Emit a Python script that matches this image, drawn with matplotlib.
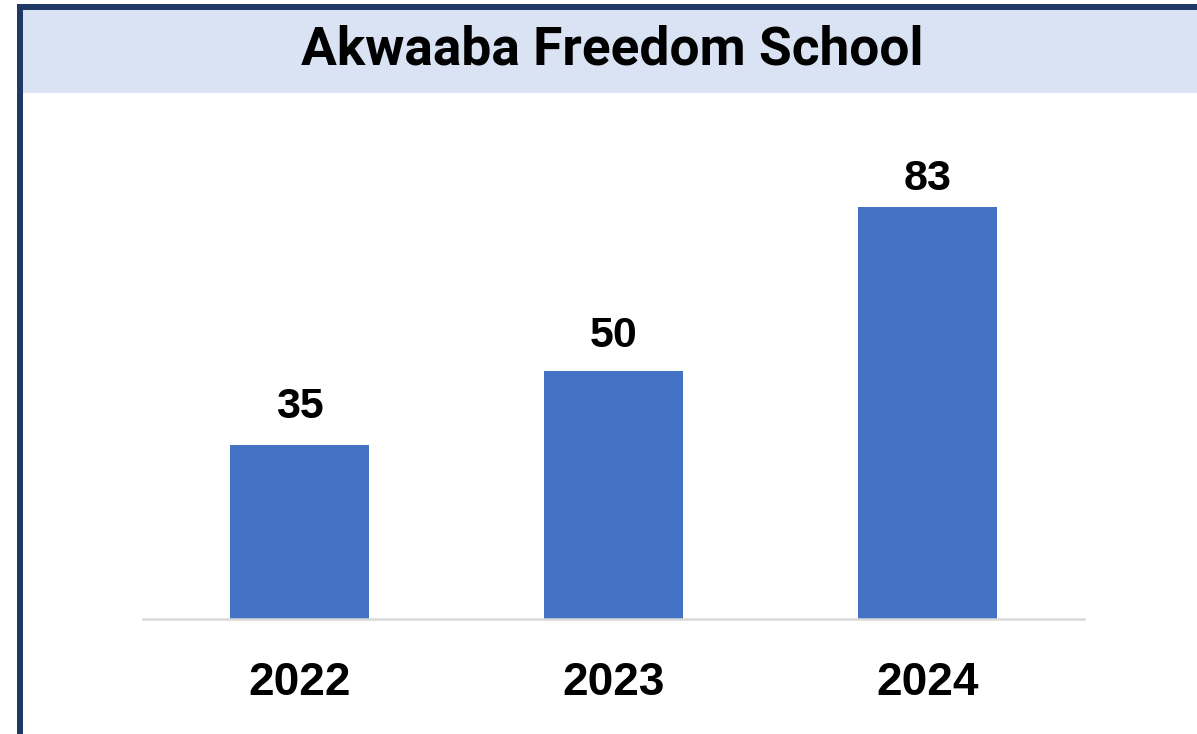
import matplotlib.pyplot as plt
from matplotlib.patches import Rectangle

years = ["2022", "2023", "2024"]
counts = [35, 50, 83]

W, H = 1197, 734
fig = plt.figure(figsize=(W / 100, H / 100), dpi=100)

# frame: title band + dark border on left and top
fig.patches.append(Rectangle((23 / W, 1 - 93 / H), 1, 83 / H, transform=fig.transFigure,
                             facecolor="#DAE3F3", edgecolor="none", zorder=0))
fig.patches.append(Rectangle((17 / W, 0), 6 / W, 1 - 4 / H, transform=fig.transFigure,
                             facecolor="#1F3864", edgecolor="none", zorder=1))
fig.patches.append(Rectangle((17 / W, 1 - 10 / H), 1, 6 / H, transform=fig.transFigure,
                             facecolor="#1F3864", edgecolor="none", zorder=1))

fig.text(612 / W, 1 - 50 / H, "Akwaaba Freedom School", ha="center", va="center",
         fontsize=38.3, fontweight="bold", family="Roboto", color="black")

ax = fig.add_axes([143 / W, 1 - 619 / H, (1084 - 143) / W, (619 - 123) / H])
bars = ax.bar(years, counts, width=0.443, color="#4472C4")
ax.set_xlim(-0.5, 2.5)
ax.set_ylim(0, 100)

# label gaps differ a little per bar in the original
pads = [13, 11, 6]
for i, (c, p) in enumerate(zip(counts, pads)):
    ax.annotate(str(c), (i, c), xytext=(0, p), textcoords="offset points",
                ha="center", va="bottom", fontsize=31, fontweight="bold",
                family="Liberation Sans")

for s in ["top", "right", "left"]:
    ax.spines[s].set_visible(False)
ax.spines["bottom"].set_color("#D9D9D9")
ax.spines["bottom"].set_linewidth(1.8)
ax.set_yticks([])
ax.tick_params(axis="x", length=0, pad=30)
for lbl in ax.get_xticklabels():
    lbl.set_fontsize(33)
    lbl.set_fontweight("bold")
    lbl.set_family("Liberation Sans")
ax.patch.set_alpha(0)

fig.savefig("out.png", dpi=100)
